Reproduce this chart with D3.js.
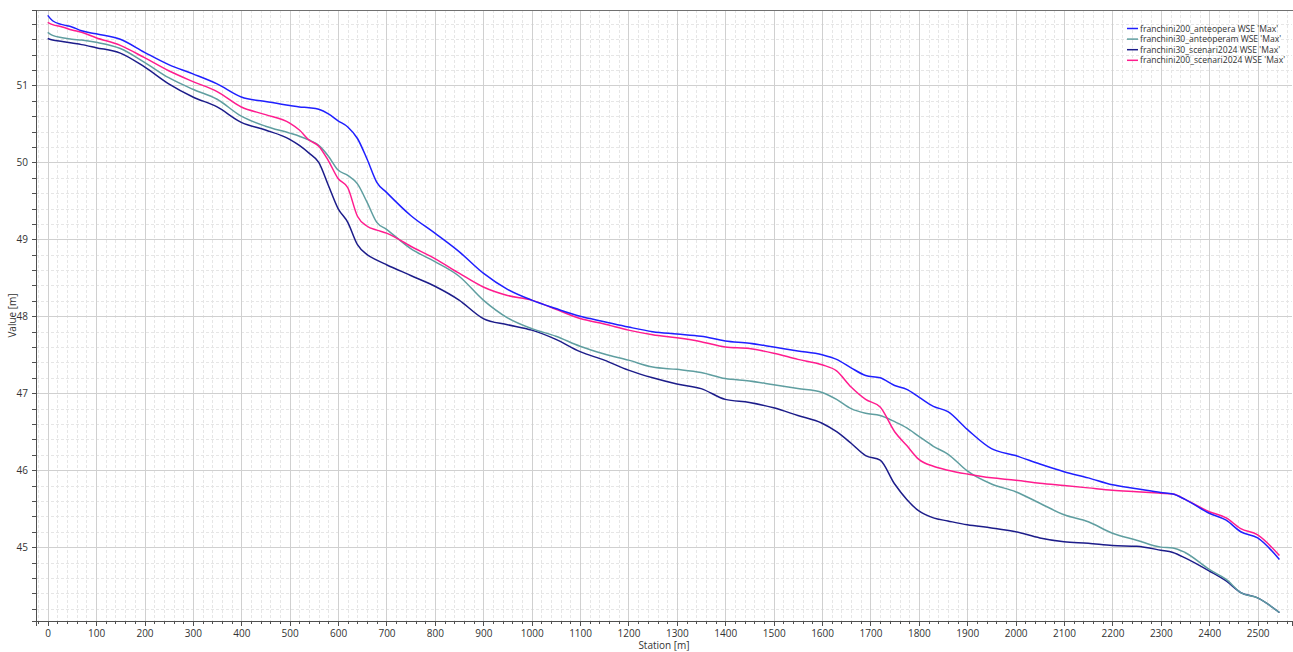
<!DOCTYPE html>
<html>
<head>
<meta charset="utf-8">
<script src="https://d3js.org/d3.v7.min.js"></script>
<style>
    body { margin: 0; background: #ffffff; }
    #chart .font { font-family: "Open Sans", "Noto Sans", sans-serif; }
    #chart .axis text { font-family: "Open Sans", "Noto Sans", sans-serif; font-size: 10px; fill: #333333; }
    #chart .axis path, #chart .axis line { stroke: #505050; shape-rendering: crispEdges; }
    #chart .grid-major line { stroke: #d0d0d0; shape-rendering: crispEdges; }
    #chart .grid-minor line { stroke: #e6e6e6; stroke-dasharray: 3,2; shape-rendering: crispEdges; }
    #chart .axis-label { font-size: 10px; fill: #333333; }
    #chart .legend text { font-size: 8.6px; fill: #333333; }
    #chart .series { fill: none; stroke-width: 1.5; }
</style>
</head>
<body>
<script>
const WIDTH = 1293;
const HEIGHT = 652;
const PLOT_LEFT = 36;
const PLOT_RIGHT = 1292;
const PLOT_TOP = 10;
const PLOT_BOTTOM = 621;

// stations [m]
const stations = [0, 10, 30, 50, 70, 100, 150, 200, 250, 300, 350, 400, 450, 500, 520, 540, 560, 580, 600, 620, 640, 660, 680, 700,
    750, 800, 850, 900, 950, 1000, 1050, 1100, 1150, 1200, 1250, 1300, 1350, 1400, 1450, 1500, 1550, 1600, 1630, 1660, 1690, 1720,
    1750, 1775, 1800, 1830, 1860, 1900, 1950, 2000, 2050, 2100, 2150, 2200, 2250, 2300, 2325, 2350, 2400, 2435, 2465, 2500, 2545];

const anteopera200 = [51.91, 51.84, 51.79, 51.76, 51.71, 51.67, 51.60, 51.43, 51.27, 51.15, 51.02, 50.85, 50.79, 50.74, 50.72, 50.71, 50.69, 50.63, 50.54, 50.46, 50.31, 50.04, 49.74, 49.61,
    49.31, 49.08, 48.84, 48.56, 48.35, 48.21, 48.10, 48.00, 47.93, 47.86, 47.80, 47.77, 47.74, 47.68, 47.65, 47.60, 47.55, 47.50, 47.44, 47.33, 47.23, 47.20,
    47.10, 47.05, 46.95, 46.83, 46.76, 46.53, 46.28, 46.19, 46.08, 45.98, 45.90, 45.81, 45.76, 45.71, 45.69, 45.62, 45.44, 45.35, 45.20, 45.12, 44.84];

const anteoperam30 = [51.69, 51.65, 51.62, 51.60, 51.59, 51.56, 51.48, 51.30, 51.10, 50.95, 50.82, 50.60, 50.47, 50.38, 50.34, 50.29, 50.22, 50.08, 49.90, 49.83, 49.72, 49.48, 49.22, 49.13,
    48.88, 48.71, 48.52, 48.21, 47.98, 47.84, 47.74, 47.61, 47.51, 47.43, 47.34, 47.31, 47.27, 47.19, 47.16, 47.11, 47.06, 47.01, 46.92, 46.80, 46.74, 46.71,
    46.63, 46.55, 46.44, 46.31, 46.21, 45.99, 45.82, 45.72, 45.57, 45.42, 45.33, 45.18, 45.09, 45.00, 44.99, 44.93, 44.71, 44.58, 44.41, 44.34, 44.15];

const scenari30 = [51.61, 51.59, 51.57, 51.55, 51.53, 51.49, 51.42, 51.24, 51.02, 50.85, 50.72, 50.52, 50.42, 50.30, 50.22, 50.12, 50.00, 49.70, 49.40, 49.22, 48.93, 48.80, 48.73, 48.67,
    48.53, 48.39, 48.21, 47.97, 47.89, 47.82, 47.70, 47.54, 47.43, 47.30, 47.20, 47.12, 47.06, 46.92, 46.88, 46.81, 46.71, 46.61, 46.50, 46.35, 46.19, 46.13,
    45.82, 45.62, 45.47, 45.38, 45.34, 45.29, 45.25, 45.20, 45.12, 45.07, 45.05, 45.02, 45.01, 44.96, 44.93, 44.86, 44.69, 44.56, 44.41, 44.34, 44.15];

const scenari200 = [51.82, 51.79, 51.76, 51.72, 51.69, 51.62, 51.52, 51.36, 51.19, 51.05, 50.92, 50.72, 50.62, 50.51, 50.42, 50.29, 50.21, 50.02, 49.79, 49.67, 49.30, 49.17, 49.12, 49.08,
    48.91, 48.75, 48.56, 48.38, 48.27, 48.21, 48.09, 47.97, 47.90, 47.82, 47.76, 47.72, 47.67, 47.60, 47.58, 47.52, 47.44, 47.37, 47.29, 47.08, 46.92, 46.82,
    46.50, 46.32, 46.14, 46.05, 46.00, 45.95, 45.90, 45.87, 45.83, 45.80, 45.77, 45.74, 45.72, 45.70, 45.69, 45.62, 45.46, 45.38, 45.24, 45.16, 44.89];

const seriesNames = ["franchini200_anteopera WSE 'Max'", "franchini30_anteoperam WSE 'Max'", "franchini30_scenari2024 WSE 'Max'", "franchini200_scenari2024 WSE 'Max'"];
const seriesColors = ["#1f1fff", "#5f9ea0", "#1c1c8a", "#ff1c8e"];
const seriesValues = [anteopera200, anteoperam30, scenari30, scenari200];
// draw order: navy, teal, pink, blue
const drawOrder = [2, 1, 3, 0];

const xMajorTicks = d3.range(0, 2501, 100);
const xMinorTicks = d3.range(-20, 2561, 20).filter(function (d) { return d % 100 !== 0; });
const yMajorTicks = [45, 46, 47, 48, 49, 50, 51];
const yMinorTicks = d3.range(44.2, 51.9, 0.2).map(function (d) { return Math.round(d * 10) / 10; })
    .filter(function (d) { return Math.abs(d - Math.round(d)) > 0.01; });

const X_MIN = -24.2;
const X_MAX = 2571;
const Y_MIN = 44.04;
const Y_MAX = 51.98;

var svg = d3.select("body").append("svg")
    .attr("id", "chart")
    .attr("width", WIDTH)
    .attr("height", HEIGHT);

var xScale = d3.scaleLinear().domain([X_MIN, X_MAX]).range([PLOT_LEFT, PLOT_RIGHT]);
var yScale = d3.scaleLinear().domain([Y_MIN, Y_MAX]).range([PLOT_BOTTOM, PLOT_TOP]);

// grid
var minorGrid = svg.append("g").classed("grid-minor", true);
minorGrid.selectAll(".vx").data(xMinorTicks).enter().append("line")
    .attr("x1", function (d) { return Math.round(xScale(d)) + 0.5; })
    .attr("x2", function (d) { return Math.round(xScale(d)) + 0.5; })
    .attr("y1", PLOT_TOP).attr("y2", PLOT_BOTTOM);
minorGrid.selectAll(".hy").data(yMinorTicks).enter().append("line")
    .attr("y1", function (d) { return Math.round(yScale(d)) + 0.5; })
    .attr("y2", function (d) { return Math.round(yScale(d)) + 0.5; })
    .attr("x1", PLOT_LEFT).attr("x2", PLOT_RIGHT);

var majorGrid = svg.append("g").classed("grid-major", true);
majorGrid.selectAll(".vx").data(xMajorTicks).enter().append("line")
    .attr("x1", function (d) { return Math.round(xScale(d)) + 0.5; })
    .attr("x2", function (d) { return Math.round(xScale(d)) + 0.5; })
    .attr("y1", PLOT_TOP).attr("y2", PLOT_BOTTOM);
majorGrid.selectAll(".hy").data(yMajorTicks).enter().append("line")
    .attr("y1", function (d) { return Math.round(yScale(d)) + 0.5; })
    .attr("y2", function (d) { return Math.round(yScale(d)) + 0.5; })
    .attr("x1", PLOT_LEFT).attr("x2", PLOT_RIGHT);

// top frame
svg.append("line")
    .attr("x1", PLOT_LEFT).attr("x2", WIDTH)
    .attr("y1", PLOT_TOP + 0.5).attr("y2", PLOT_TOP + 0.5)
    .attr("stroke", "#707070");

// axes
var xAxis = d3.axisBottom(xScale).tickValues(xMajorTicks).tickSize(5).tickPadding(4).tickFormat(d3.format("d"));
svg.append("g").classed("axis", true)
    .attr("transform", "translate(0," + PLOT_BOTTOM + ")")
    .call(xAxis);
var xMinorAxis = d3.axisBottom(xScale).tickValues(xMinorTicks).tickSize(3).tickFormat("");
svg.append("g").classed("axis", true)
    .attr("transform", "translate(0," + PLOT_BOTTOM + ")")
    .call(xMinorAxis)
    .select(".domain").remove();

var yAxis = d3.axisLeft(yScale).tickValues(yMajorTicks).tickSize(4).tickPadding(4).tickFormat(d3.format("d"));
svg.append("g").classed("axis", true)
    .attr("transform", "translate(" + PLOT_LEFT + ",0)")
    .call(yAxis);
var yMinorAxis = d3.axisLeft(yScale).tickValues(yMinorTicks).tickSize(4).tickFormat("");
svg.append("g").classed("axis", true)
    .attr("transform", "translate(" + PLOT_LEFT + ",0)")
    .call(yMinorAxis)
    .select(".domain").remove();

// axis labels
svg.append("text")
    .classed("font axis-label", true)
    .attr("x", (PLOT_LEFT + PLOT_RIGHT) / 2)
    .attr("y", 649)
    .attr("text-anchor", "middle")
    .text("Station [m]");
svg.append("text")
    .classed("font axis-label", true)
    .attr("transform", "translate(16," + ((PLOT_TOP + PLOT_BOTTOM) / 2) + ") rotate(-90)")
    .attr("text-anchor", "middle")
    .text("Value [m]");

// lines
var line = d3.line()
    .x(function (d) { return xScale(d[0]); })
    .y(function (d) { return yScale(d[1]); })
    .curve(d3.curveMonotoneX);

drawOrder.forEach(function (i) {
    var pts = stations.map(function (s, k) { return [s, seriesValues[i][k]]; });
    svg.append("path")
        .datum(pts)
        .classed("series", true)
        .attr("stroke", seriesColors[i])
        .attr("d", line);
});

// legend
var legend = svg.append("g").classed("legend font", true);
var legendItems = legend.selectAll("g").data(seriesNames).enter().append("g")
    .attr("transform", function (d, i) { return "translate(1127," + (28.5 + i * 10.6) + ")"; });
legendItems.append("line")
    .attr("x1", 0).attr("x2", 11)
    .attr("y1", 0).attr("y2", 0)
    .attr("stroke-width", 1.5)
    .attr("stroke", function (d, i) { return seriesColors[i]; });
legendItems.append("text")
    .attr("x", 13)
    .attr("y", 0)
    .attr("dominant-baseline", "central")
    .text(function (d) { return d; });
</script>
</body>
</html>
